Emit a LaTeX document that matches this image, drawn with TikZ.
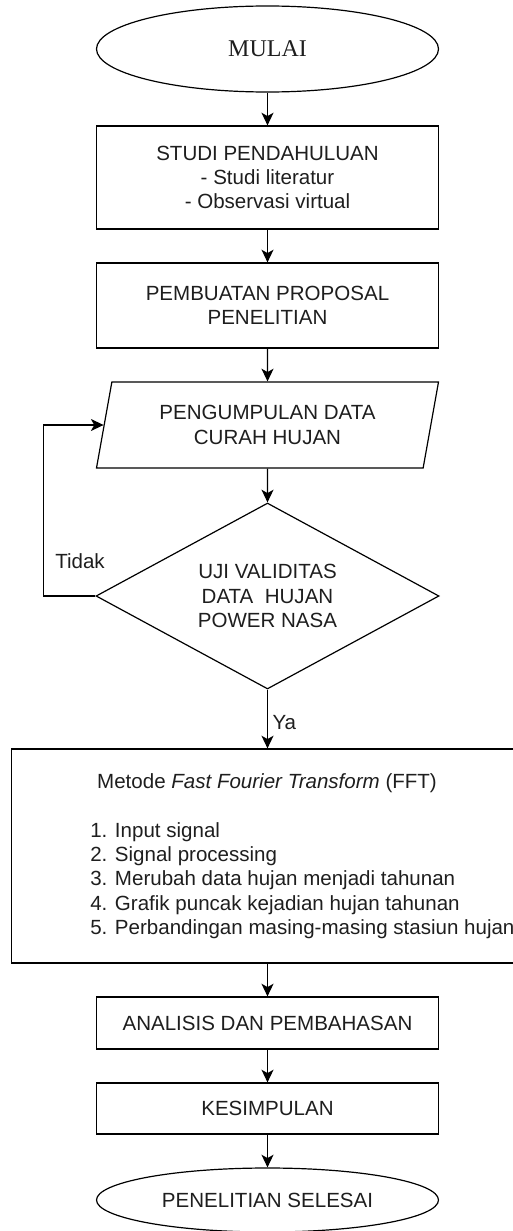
\documentclass[tikz,border=0pt]{standalone}
\usepackage{fontspec}
\setmainfont{Liberation Sans}
\newfontfamily\seriffont{Liberation Serif}
\usetikzlibrary{shapes.geometric}
\usetikzlibrary{arrows,arrows.meta}
\definecolor{garis}{RGB}{0,0,0}
\definecolor{tulisan}{RGB}{30,30,30}

\begin{document}
\begin{tikzpicture}[x=0.75pt, y=-0.75pt,
    every node/.style={text=tulisan, font=\fontsize{15.4}{18.2}\selectfont},
    kotak/.style={draw=garis, line width=0.9pt, rectangle, minimum width=256.5pt, inner sep=0pt, align=center},
    oval/.style={draw=garis, line width=0.9pt, ellipse, minimum width=256.5pt, inner sep=0pt},
    jajar/.style={draw=garis, line width=0.9pt, trapezium, trapezium left angle=68.4, trapezium right angle=111.6,
        trapezium stretches body, minimum width=256.5pt, minimum height=64.5pt, inner sep=0pt, align=center},
    belah/.style={draw=garis, line width=0.9pt, diamond, shape aspect=1.84, minimum width=257.25pt,
        minimum height=139.5pt, inner sep=0pt, align=center},
    panah/.style={draw=garis, line width=0.9pt, -{Stealth[length=9.5pt, width=9pt, inset=2.5pt]}}]

    \useasboundingbox (0,0) rectangle (512,1231);

    \node[oval, minimum height=64.5pt, font=\seriffont\fontsize{18}{21}\selectfont] (mulai) at (267.5,49) {MULAI};
    \node[kotak, minimum height=77.25pt] (studi) at (267.5,177.5) {STUDI PENDAHULUAN\\- Studi literatur\\- Observasi virtual};
    \node[kotak, minimum height=63.75pt] (proposal) at (267.5,305.5) {PEMBUATAN PROPOSAL\\PENELITIAN};
    \node[jajar] (data) at (267.5,425) {PENGUMPULAN DATA\\CURAH HUJAN};
    \node[belah] (uji) at (267.5,596) {UJI VALIDITAS\\DATA\ \ HUJAN\\POWER NASA};
    \node[kotak, minimum width=384pt, minimum height=160.5pt] (fft) at (267.5,856) {};
    \node (judulfft) at (267,783) {Metode \textit{Fast Fourier Transform} (FFT)};
    \node[anchor=west, inner sep=0pt, align=left] (langkah) at (90,880.5)
        {1. Input signal\\2. Signal processing\\3. Merubah data hujan menjadi tahunan\\4. Grafik puncak kejadian hujan tahunan\\5. Perbandingan masing-masing stasiun hujan};
    \node[kotak, minimum height=39pt] (analisis) at (267.5,1023) {ANALISIS DAN PEMBAHASAN};
    \node[kotak, minimum height=38.25pt] (kesimpulan) at (267.5,1108.5) {KESIMPULAN};
    \node[oval, minimum height=48pt] (selesai) at (267.5,1200) {PENELITIAN SELESAI};

    \draw[panah] (mulai) -- (studi);
    \draw[panah] (studi) -- (proposal);
    \draw[panah] (proposal) -- (data);
    \draw[panah] (data) -- (uji);
    \draw[panah] (uji.west) -- ++(-52,0) |- (data.west);
    \node (tidak) at (80,561) {Tidak};
    \draw[panah] (uji.south) -- node[right, yshift=-3pt] (ya) {Ya} (fft.north);
    \draw[panah] (fft) -- (analisis);
    \draw[panah] (analisis) -- (kesimpulan);
    \draw[panah] (kesimpulan) -- (selesai);

\end{tikzpicture}
\end{document}
